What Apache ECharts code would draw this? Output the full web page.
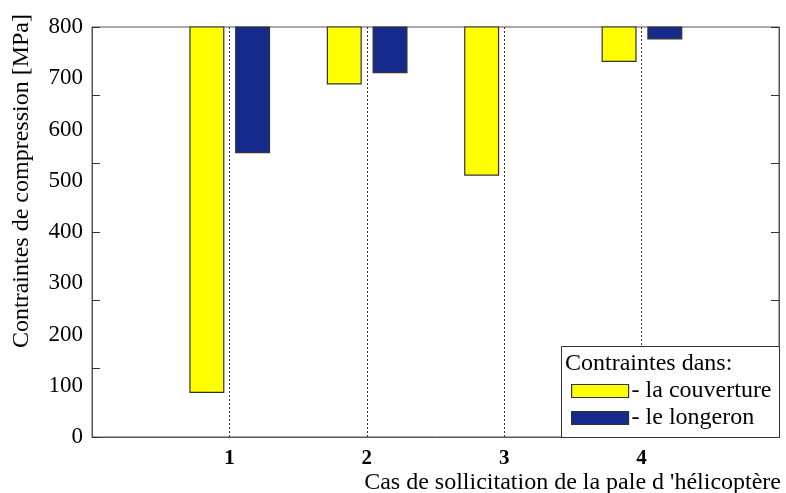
<!DOCTYPE html>
<html>
<head>
<meta charset="utf-8">
<script src="https://cdn.jsdelivr.net/npm/echarts@6/dist/echarts.min.js"></script>
<style>
html,body{margin:0;padding:0;background:#fff;}
#chart{width:786px;height:493px;}
</style>
</head>
<body>
<div id="chart"></div>
<script>
const categories = [1, 2, 3, 4];
const couverture = [87, 689, 511, 733];
const longeron = [555, 711, null, 777];
const seriesNames = ['la couverture', 'le longeron'];
const yTop = 800;

const FONT = '"Liberation Serif", "Times New Roman", serif';
const colors = ['#ffff00', '#152a8a'];
const offsets = [-0.164, 0.169];
const halfW = 0.123;

function makeRender(idx) {
  return function (params, api) {
    const x = api.value(0), v = api.value(1);
    if (v == null || isNaN(v)) return;
    const p1 = api.coord([x + offsets[idx] - halfW, yTop]);
    const p2 = api.coord([x + offsets[idx] + halfW, v]);
    return {
      type: 'rect',
      shape: { x: p1[0], y: p1[1], width: p2[0] - p1[0], height: p2[1] - p1[1] },
      style: { fill: colors[idx], stroke: '#333', lineWidth: 1.2 }
    };
  };
}

const chart = echarts.init(document.getElementById('chart'));
chart.setOption({
  animation: false,
  backgroundColor: '#fff',
  grid: { left: 92, right: 7, top: 27, bottom: 56, show: true, borderColor: '#555', borderWidth: 1 },
  xAxis: {
    type: 'value', min: 0, max: 5, interval: 1,
    axisLine: { show: true, lineStyle: { color: '#555' } },
    axisTick: { show: false },
    splitLine: { show: true, lineStyle: { color: '#333', type: [2, 2], width: 1 } },
    axisLabel: {
      margin: 11, fontFamily: FONT, fontSize: 21, fontWeight: 'bold', color: '#000',
      formatter: function (v) { return categories.indexOf(v) >= 0 ? String(v) : ''; }
    }
  },
  yAxis: [
    {
      type: 'value', min: 0, max: 800, interval: 100, position: 'left',
      axisLine: { show: true, lineStyle: { color: '#555' } },
      axisTick: { show: false },
      splitLine: { show: false },
      axisLabel: { margin: 9, fontFamily: FONT, fontSize: 23, color: '#000' }
    },
    {
      type: 'value', min: 0, max: 800, interval: 800 / 6, position: 'left',
      axisLine: { show: false },
      axisTick: { show: true, inside: true, length: 8, lineStyle: { color: '#333' } },
      axisLabel: { show: false },
      splitLine: { show: false }
    },
    {
      type: 'value', min: 0, max: 800, interval: 800 / 6, position: 'right',
      axisLine: { show: true, lineStyle: { color: '#555' } },
      axisTick: { show: true, inside: true, length: 8, lineStyle: { color: '#333' } },
      axisLabel: { show: false },
      splitLine: { show: false }
    }
  ],
  legend: {
    z: 20,
    left: 571, top: 379, orient: 'vertical',
    itemWidth: 57, itemHeight: 13, itemGap: 3,
    padding: 0,
    textStyle: { fontFamily: FONT, fontSize: 24, lineHeight: 24, color: '#000', padding: [0, 0, 0, -2] },
    formatter: function (n) { return '- ' + n; },
    data: [
      { name: seriesNames[0], icon: 'rect', itemStyle: { color: colors[0], borderColor: '#333', borderWidth: 1.2 } },
      { name: seriesNames[1], icon: 'rect', itemStyle: { color: colors[1], borderColor: '#333', borderWidth: 1.2 } }
    ]
  },
  graphic: [
    { type: 'rect', z: 5, shape: { x: 561.5, y: 346.5, width: 218, height: 91 },
      style: { fill: '#fff', stroke: '#333', lineWidth: 1 } },
    { type: 'text', z: 6, x: 565, y: 364,
      style: { text: 'Contraintes dans:', font: '24px ' + FONT, fill: '#000', textAlign: 'left', textVerticalAlign: 'middle' } },
    { type: 'text', x: 781, y: 483,
      style: { text: "Cas de sollicitation de la pale d 'hélicoptère", font: '24px ' + FONT, fill: '#000', textAlign: 'right', textVerticalAlign: 'middle' } },
    { type: 'text', x: 22, y: 181, rotation: Math.PI / 2,
      style: { text: 'Contraintes de compression [MPa]', font: '24px ' + FONT, fill: '#000', textAlign: 'center', textVerticalAlign: 'middle' } }
  ],
  series: [
    {
      name: seriesNames[0], type: 'custom', renderItem: makeRender(0),
      itemStyle: { color: colors[0], borderColor: '#333', borderWidth: 1 },
      encode: { x: 0, y: 1 },
      data: categories.map((c, i) => [c, couverture[i]])
    },
    {
      name: seriesNames[1], type: 'custom', renderItem: makeRender(1),
      itemStyle: { color: colors[1], borderColor: '#333', borderWidth: 1 },
      encode: { x: 0, y: 1 },
      data: categories.map((c, i) => [c, longeron[i]])
    }
  ]
});
</script>
</body>
</html>
